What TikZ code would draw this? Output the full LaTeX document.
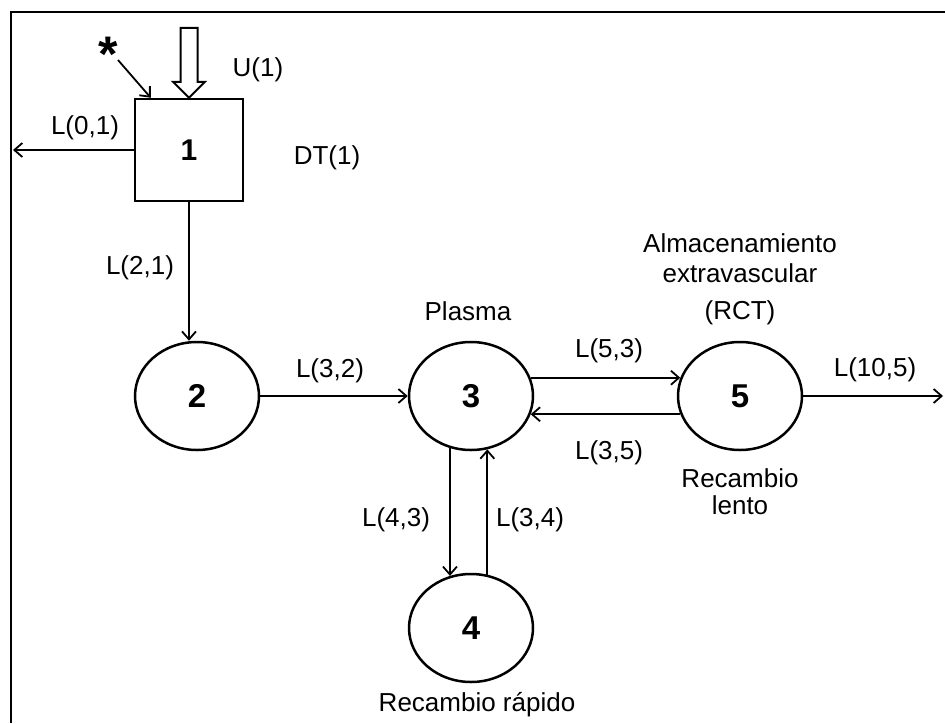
\documentclass[tikz,border=0pt]{standalone}
\usepackage{fontspec}
\setmainfont{Liberation Sans}
\usetikzlibrary{positioning,shapes.geometric,arrows.meta}

\begin{document}
\begin{tikzpicture}[x=1pt,y=-1pt,
    comp/.style={draw, ellipse, line width=2.5pt, minimum width=124pt, minimum height=108pt, inner sep=0pt, font=\fontsize{33}{33}\selectfont\bfseries},
    flow/.style={line width=1.8pt, -{Straight Barb[length=8pt,width=14pt]}},
    txt/.style={font=\fontsize{26}{30}\selectfont, inner sep=0pt}]
          \useasboundingbox (0,0) rectangle (945,723);
          \draw[line width=2.5pt] (11,723) -- (11,12) -- (945,12);

          % compartments
          \node[draw, rectangle, line width=2.5pt, minimum width=108pt, minimum height=102pt, font=\fontsize{30}{30}\selectfont\bfseries] (b1) at (189,150) {1};
          \node[comp] (c2) at (197,396) {2};
          \node[comp] (c3) at (471,396) {3};
          \node[comp] (c4) at (471,628) {4};
          \node[comp] (c5) at (740,396) {5};

          % inputs
          \draw[line width=2pt, fill=white] (b1.north) -- ++(-16,-16) -- ++(7.5,0) -- ++(0,-54) -- ++(17,0) -- ++(0,54) -- ++(7.5,0) -- cycle;
          \node[font=\fontsize{50}{50}\selectfont\bfseries, inner sep=0pt] (star) at (108,54) {*};
          \coordinate (startail) at (118,60);
          \draw[flow] (startail) -- ([xshift=17pt]b1.north west);

          % flows
          \coordinate (out1) at (13,150);
          \coordinate (out5) at (943,396);
          \draw[flow] (b1.west) -- (out1);
          \draw[flow] (b1.south) -- (b1.south |- c2.north);
          \draw[flow] (c2) -- (c3);
          \draw[flow] (c3.17) -- (c5.163);
          \draw[flow] (c5.197) -- (c3.-17);
          \draw[flow] (c3.-112) -- (c4.112);
          \draw[flow] (c4.73) -- (c3.-73);
          \draw[flow] (c5) -- (out5);

          % labels
          \node[txt] (l01) at (85,128) {L(0,1)};
          \node[txt] (u1) at (258,70) {U(1)};
          \node[txt] (dt1) at (327,158) {DT(1)};
          \node[txt] (l21) at (140,268) {L(2,1)};
          \node[txt] (l32) at (330,371) {L(3,2)};
          \node[txt] (plasma) at (468,311) {Plasma};
          \node[txt] (l53) at (609,351) {L(5,3)};
          \node[txt] (l35) at (609,453) {L(3,5)};
          \node[txt] (alm) at (740,243) {Almacenamiento};
          \node[txt] (extra) at (740,273) {extravascular};
          \node[txt] (rct) at (740,313) {(RCT)};
          \node[txt] (l105) at (875,370) {L(10,5)};
          \node[txt] (lento1) at (740,478) {Recambio};
          \node[txt] (lento2) at (740,505) {lento};
          \node[txt] (l43) at (396,520) {L(4,3)};
          \node[txt] (l34) at (530,520) {L(3,4)};
          \node[txt] (rapido) at (477,705) {Recambio rápido};
        \end{tikzpicture}
\end{document}
